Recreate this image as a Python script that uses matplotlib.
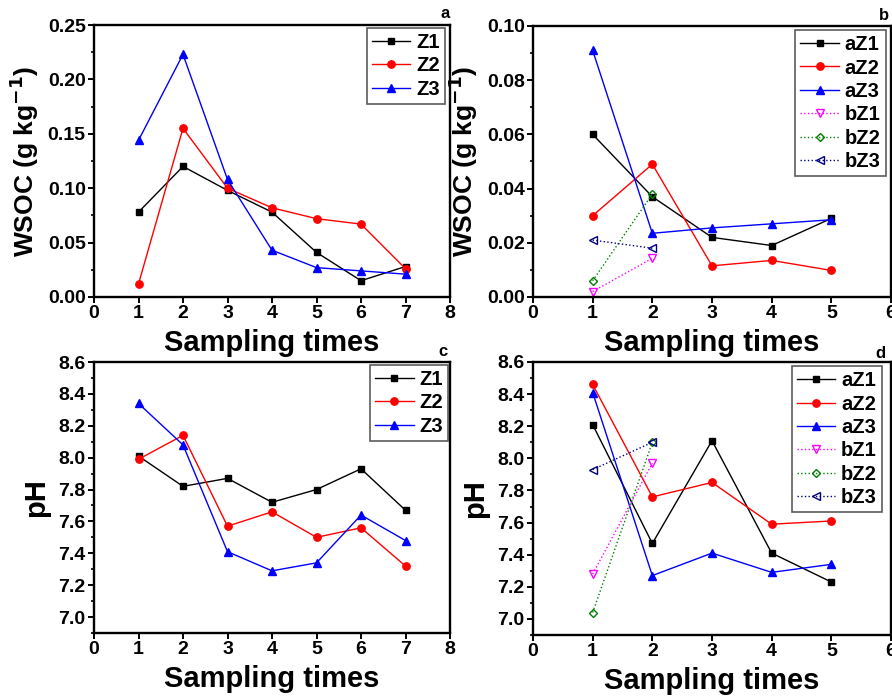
import matplotlib
matplotlib.use("Agg")
import matplotlib.pyplot as plt
from matplotlib.ticker import MultipleLocator, AutoMinorLocator, FormatStrFormatter

plt.rcParams['font.family'] = ['Liberation Sans', 'DejaVu Sans']
plt.rcParams['font.weight'] = 'bold'
plt.rcParams['mathtext.default'] = 'bf'

# Panel a: WSOC (7 sampling times)
x7 = [1, 2, 3, 4, 5, 6, 7]
a_Z1 = [0.078, 0.120, 0.098, 0.078, 0.041, 0.015, 0.028]
a_Z2 = [0.012, 0.155, 0.100, 0.082, 0.072, 0.067, 0.026]
a_Z3 = [0.144, 0.223, 0.108, 0.043, 0.027, 0.024, 0.021]

# Panel b: WSOC (5 sampling times)
x5 = [1, 2, 3, 4, 5]
x2 = [1, 2]
b_aZ1 = [0.060, 0.037, 0.022, 0.019, 0.029]
b_aZ2 = [0.030, 0.049, 0.0115, 0.0135, 0.0098]
b_aZ3 = [0.091, 0.0235, 0.0255, 0.027, 0.0285]
b_bZ1 = [0.002, 0.0143]
b_bZ2 = [0.006, 0.038]
b_bZ3 = [0.021, 0.018]

# Panel c: pH (7 sampling times)
c_Z1 = [8.01, 7.82, 7.87, 7.72, 7.80, 7.93, 7.67]
c_Z2 = [7.99, 8.14, 7.57, 7.66, 7.50, 7.56, 7.32]
c_Z3 = [8.34, 8.08, 7.41, 7.29, 7.34, 7.64, 7.48]

# Panel d: pH (5 sampling times)
d_aZ1 = [8.21, 7.47, 8.11, 7.41, 7.23]
d_aZ2 = [8.46, 7.76, 7.85, 7.59, 7.61]
d_aZ3 = [8.41, 7.27, 7.41, 7.29, 7.34]
d_bZ1 = [7.28, 7.97]
d_bZ2 = [7.04, 8.10]
d_bZ3 = [7.93, 8.10]

ph_ticks = [7.0, 7.2, 7.4, 7.6, 7.8, 8.0, 8.2, 8.4, 8.6]

fig = plt.figure(figsize=(8.92, 6.98), dpi=100)

W, H = 892.0, 698.0
def rect(l, t, r, b):
    return [l / W, 1 - b / H, (r - l) / W, (b - t) / H]

axa = fig.add_axes(rect(94, 25, 450, 297))
axb = fig.add_axes(rect(533, 26, 891, 297))
axc = fig.add_axes(rect(94, 362, 450, 633))
axd = fig.add_axes(rect(533, 362, 891, 635))

lw = 1.0
LAB = 21
TICK = 14

def style(ax):
    for s in ax.spines.values():
        s.set_linewidth(1.7)
    ax.tick_params(axis='both', which='major', direction='out', length=4, width=1.4,
                   labelsize=TICK, pad=2)
    ax.tick_params(axis='y', which='minor', direction='out', length=2.5, width=1.2)
    ax.yaxis.set_minor_locator(AutoMinorLocator(2))
    for lab in ax.get_xticklabels() + ax.get_yticklabels():
        lab.set_fontweight('bold')

def legend(ax, bbox):
    leg = ax.legend(loc='upper right', bbox_to_anchor=bbox, fontsize=14.5, frameon=True,
                    fancybox=False, handlelength=1.9, handletextpad=0.3, borderpad=0.25,
                    labelspacing=0.22, borderaxespad=0.0)
    leg.get_frame().set_edgecolor('#333333')
    leg.get_frame().set_linewidth(1.2)
    for t in leg.get_texts():
        t.set_fontweight('bold')

def plot_three(ax, x, s1, s2, s3, names):
    ax.plot(x, s1, '-s', color='black', lw=lw, ms=4.6, label=names[0])
    ax.plot(x, s2, '-o', color='red', lw=lw, ms=5.3, label=names[1])
    ax.plot(x, s3, '-^', color='blue', lw=lw, ms=5.6, label=names[2])

def plot_b(ax, s1, s2, s3):
    ax.plot(x2, s1, ':v', color='magenta', mfc='none', lw=lw, ms=5.6, label='bZ1')
    ax.plot(x2, s2, ':D', color='green', mfc='none', lw=lw, ms=4.3, label='bZ2')
    ax.plot(x2, s3, ':<', color='navy', mfc='none', lw=lw, ms=5.6, label='bZ3')

wsoc_label = 'WSOC (g kg$^{-1}$)'
YLAB = 19

# Panel a
plot_three(axa, x7, a_Z1, a_Z2, a_Z3, ['Z1', 'Z2', 'Z3'])
axa.set_xlim(0, 8)
axa.set_ylim(0, 0.25)
axa.xaxis.set_major_locator(MultipleLocator(1))
axa.yaxis.set_major_locator(MultipleLocator(0.05))
axa.yaxis.set_major_formatter(FormatStrFormatter('%.2f'))
axa.set_ylabel(wsoc_label, fontsize=YLAB, fontweight='bold', labelpad=5)
axa.set_xlabel('Sampling times', fontsize=LAB, fontweight='bold', labelpad=5)
style(axa)
legend(axa, (0.985, 0.99))

# Panel b
plot_three(axb, x5, b_aZ1, b_aZ2, b_aZ3, ['aZ1', 'aZ2', 'aZ3'])
plot_b(axb, b_bZ1, b_bZ2, b_bZ3)
axb.set_xlim(0, 6)
axb.set_ylim(0, 0.10)
axb.xaxis.set_major_locator(MultipleLocator(1))
axb.yaxis.set_major_locator(MultipleLocator(0.02))
axb.yaxis.set_major_formatter(FormatStrFormatter('%.2f'))
axb.set_ylabel(wsoc_label, fontsize=YLAB, fontweight='bold', labelpad=5)
axb.set_xlabel('Sampling times', fontsize=LAB, fontweight='bold', labelpad=5)
style(axb)
legend(axb, (0.985, 0.985))

# Panel c
plot_three(axc, x7, c_Z1, c_Z2, c_Z3, ['Z1', 'Z2', 'Z3'])
axc.set_xlim(0, 8)
axc.set_ylim(6.9, 8.6)
axc.xaxis.set_major_locator(MultipleLocator(1))
axc.set_yticks(ph_ticks)
axc.yaxis.set_major_formatter(FormatStrFormatter('%.1f'))
axc.set_ylabel('pH', fontsize=LAB, fontweight='bold', labelpad=6)
axc.set_xlabel('Sampling times', fontsize=LAB, fontweight='bold', labelpad=5)
style(axc)
legend(axc, (0.995, 0.99))

# Panel d
plot_three(axd, x5, d_aZ1, d_aZ2, d_aZ3, ['aZ1', 'aZ2', 'aZ3'])
plot_b(axd, d_bZ1, d_bZ2, d_bZ3)
axd.set_xlim(0, 6)
axd.set_ylim(6.9, 8.6)
axd.xaxis.set_major_locator(MultipleLocator(1))
axd.set_yticks(ph_ticks)
axd.yaxis.set_major_formatter(FormatStrFormatter('%.1f'))
axd.set_ylabel('pH', fontsize=LAB, fontweight='bold', labelpad=6)
axd.set_xlabel('Sampling times', fontsize=LAB, fontweight='bold', labelpad=5)
style(axd)
legend(axd, (0.975, 0.985))

# Panel letters
fig.text(445 / W, 1 - 14 / H, 'a', fontsize=12, fontweight='bold', ha='center', va='center')
fig.text(884 / W, 1 - 15 / H, 'b', fontsize=12, fontweight='bold', ha='center', va='center')
fig.text(443 / W, 1 - 351 / H, 'c', fontsize=12, fontweight='bold', ha='center', va='center')
fig.text(880 / W, 1 - 354 / H, 'd', fontsize=12, fontweight='bold', ha='center', va='center')

fig.savefig('out.png', dpi=100)
